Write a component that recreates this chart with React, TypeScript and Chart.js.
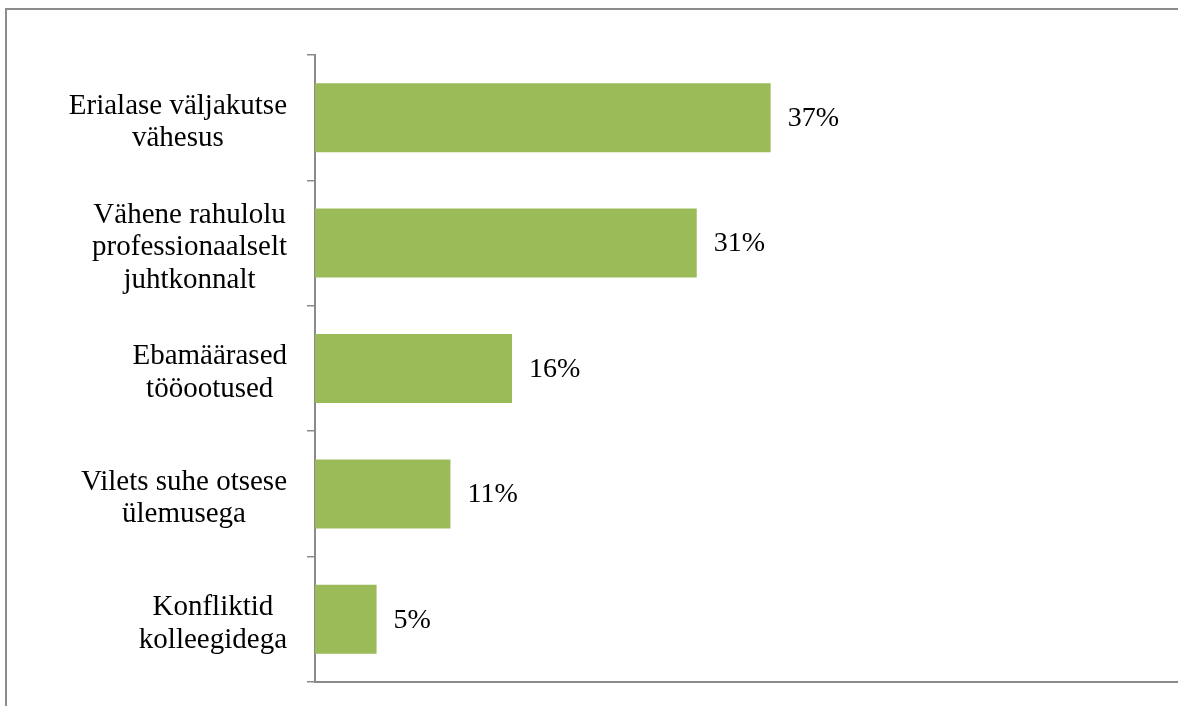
import React, { useEffect, useRef } from "react";
import { Chart, registerables } from "chart.js";

Chart.register(...registerables);

const categories: string[][] = [
  ["Erialase väljakutse", "vähesus"],
  ["Vähene rahulolu", "professionaalselt", "juhtkonnalt"],
  ["Ebamäärased", "tööootused"],
  ["Vilets suhe otsese", "ülemusega"],
  ["Konfliktid", "kolleegidega"],
];
const values: number[] = [37, 31, 16, 11, 5];
const valueLabels: string[] = ["37%", "31%", "16%", "11%", "5%"];

const FONT = "'Liberation Serif', 'Times New Roman', serif";

export default function App() {
  const ref = useRef<HTMLCanvasElement | null>(null);
  useEffect(() => {
    if (!ref.current) return;
    const labelPlugin = {
      id: "valueLabels",
      afterDatasetsDraw(chart: any) {
        const ctx = chart.ctx;
        const meta = chart.getDatasetMeta(0);
        const yScale = chart.scales.y;
        ctx.save();
        ctx.fillStyle = "#000";
        ctx.textBaseline = "middle";
        // value labels
        ctx.font = `28px ${FONT}`;
        ctx.textAlign = "left";
        meta.data.forEach((bar: any, i: number) => {
          ctx.fillText(valueLabels[i], bar.x + 17, bar.y + 1);
        });
        // category labels (multi-line, centred, right edge near axis)
        ctx.font = `29px ${FONT}`;
        ctx.textAlign = "center";
        const lh = 32.5;
        const rightEdge = yScale.right - 8 - 20;
        categories.forEach((lines, i) => {
          const cy = yScale.getPixelForValue(i);
          const maxW = Math.max(...lines.map((l) => ctx.measureText(l).width));
          const cx = rightEdge - maxW / 2;
          const startY = cy - ((lines.length - 1) * lh) / 2 + 4.5;
          lines.forEach((l, j) => ctx.fillText(l, cx, startY + j * lh));
        });
        ctx.restore();
      },
    };
    const chart = new Chart(ref.current, {
      type: "bar",
      data: {
        labels: categories,
        datasets: [
          {
            data: values,
            backgroundColor: "#9BBB59",
            borderWidth: 0,
            barPercentage: 0.55,
            categoryPercentage: 1,
          },
        ],
      },
      options: {
        indexAxis: "y",
        responsive: false,
        animation: false,
        layout: { padding: { top: 45, right: 1, left: 0, bottom: 0 } },
        plugins: { legend: { display: false }, tooltip: { enabled: false } },
        scales: {
          x: {
            min: 0,
            max: 70,
            ticks: { display: false },
            grid: { display: false, drawTicks: false },
            border: { display: true, color: "#8a8a8a", width: 2 },
            afterFit: (s: any) => {
              s.height = 24;
              s.paddingLeft = 0;
              s.paddingRight = 0;
            },
          },
          y: {
            grid: {
              offset: true,
              drawOnChartArea: false,
              drawTicks: true,
              tickLength: 8,
              color: "#8a8a8a",
              lineWidth: 1.5,
            },
            border: { display: true, color: "#8a8a8a", width: 2 },
            ticks: {
              color: "rgba(0,0,0,0)",
              padding: 20,
              font: { family: FONT, size: 12 },
            },
            afterFit: (s: any) => {
              s.width = 308;
              s.paddingTop = 0;
              s.paddingBottom = 0;
            },
          },
        },
      },
      plugins: [labelPlugin],
    });
    return () => chart.destroy();
  }, []);

  return (
    <div
      style={{
        position: "fixed",
        left: 0,
        top: 0,
        width: 1178,
        height: 706,
        overflow: "hidden",
        background: "#fff",
      }}
    >
      <div
        style={{
          position: "absolute",
          left: 5,
          top: 8,
          width: 1300,
          height: 800,
          border: "2px solid #8c8c8c",
          boxSizing: "border-box",
        }}
      />
      <canvas
        ref={ref}
        width={1171}
        height={696}
        style={{ position: "absolute", left: 7, top: 10 }}
      />
    </div>
  );
}
